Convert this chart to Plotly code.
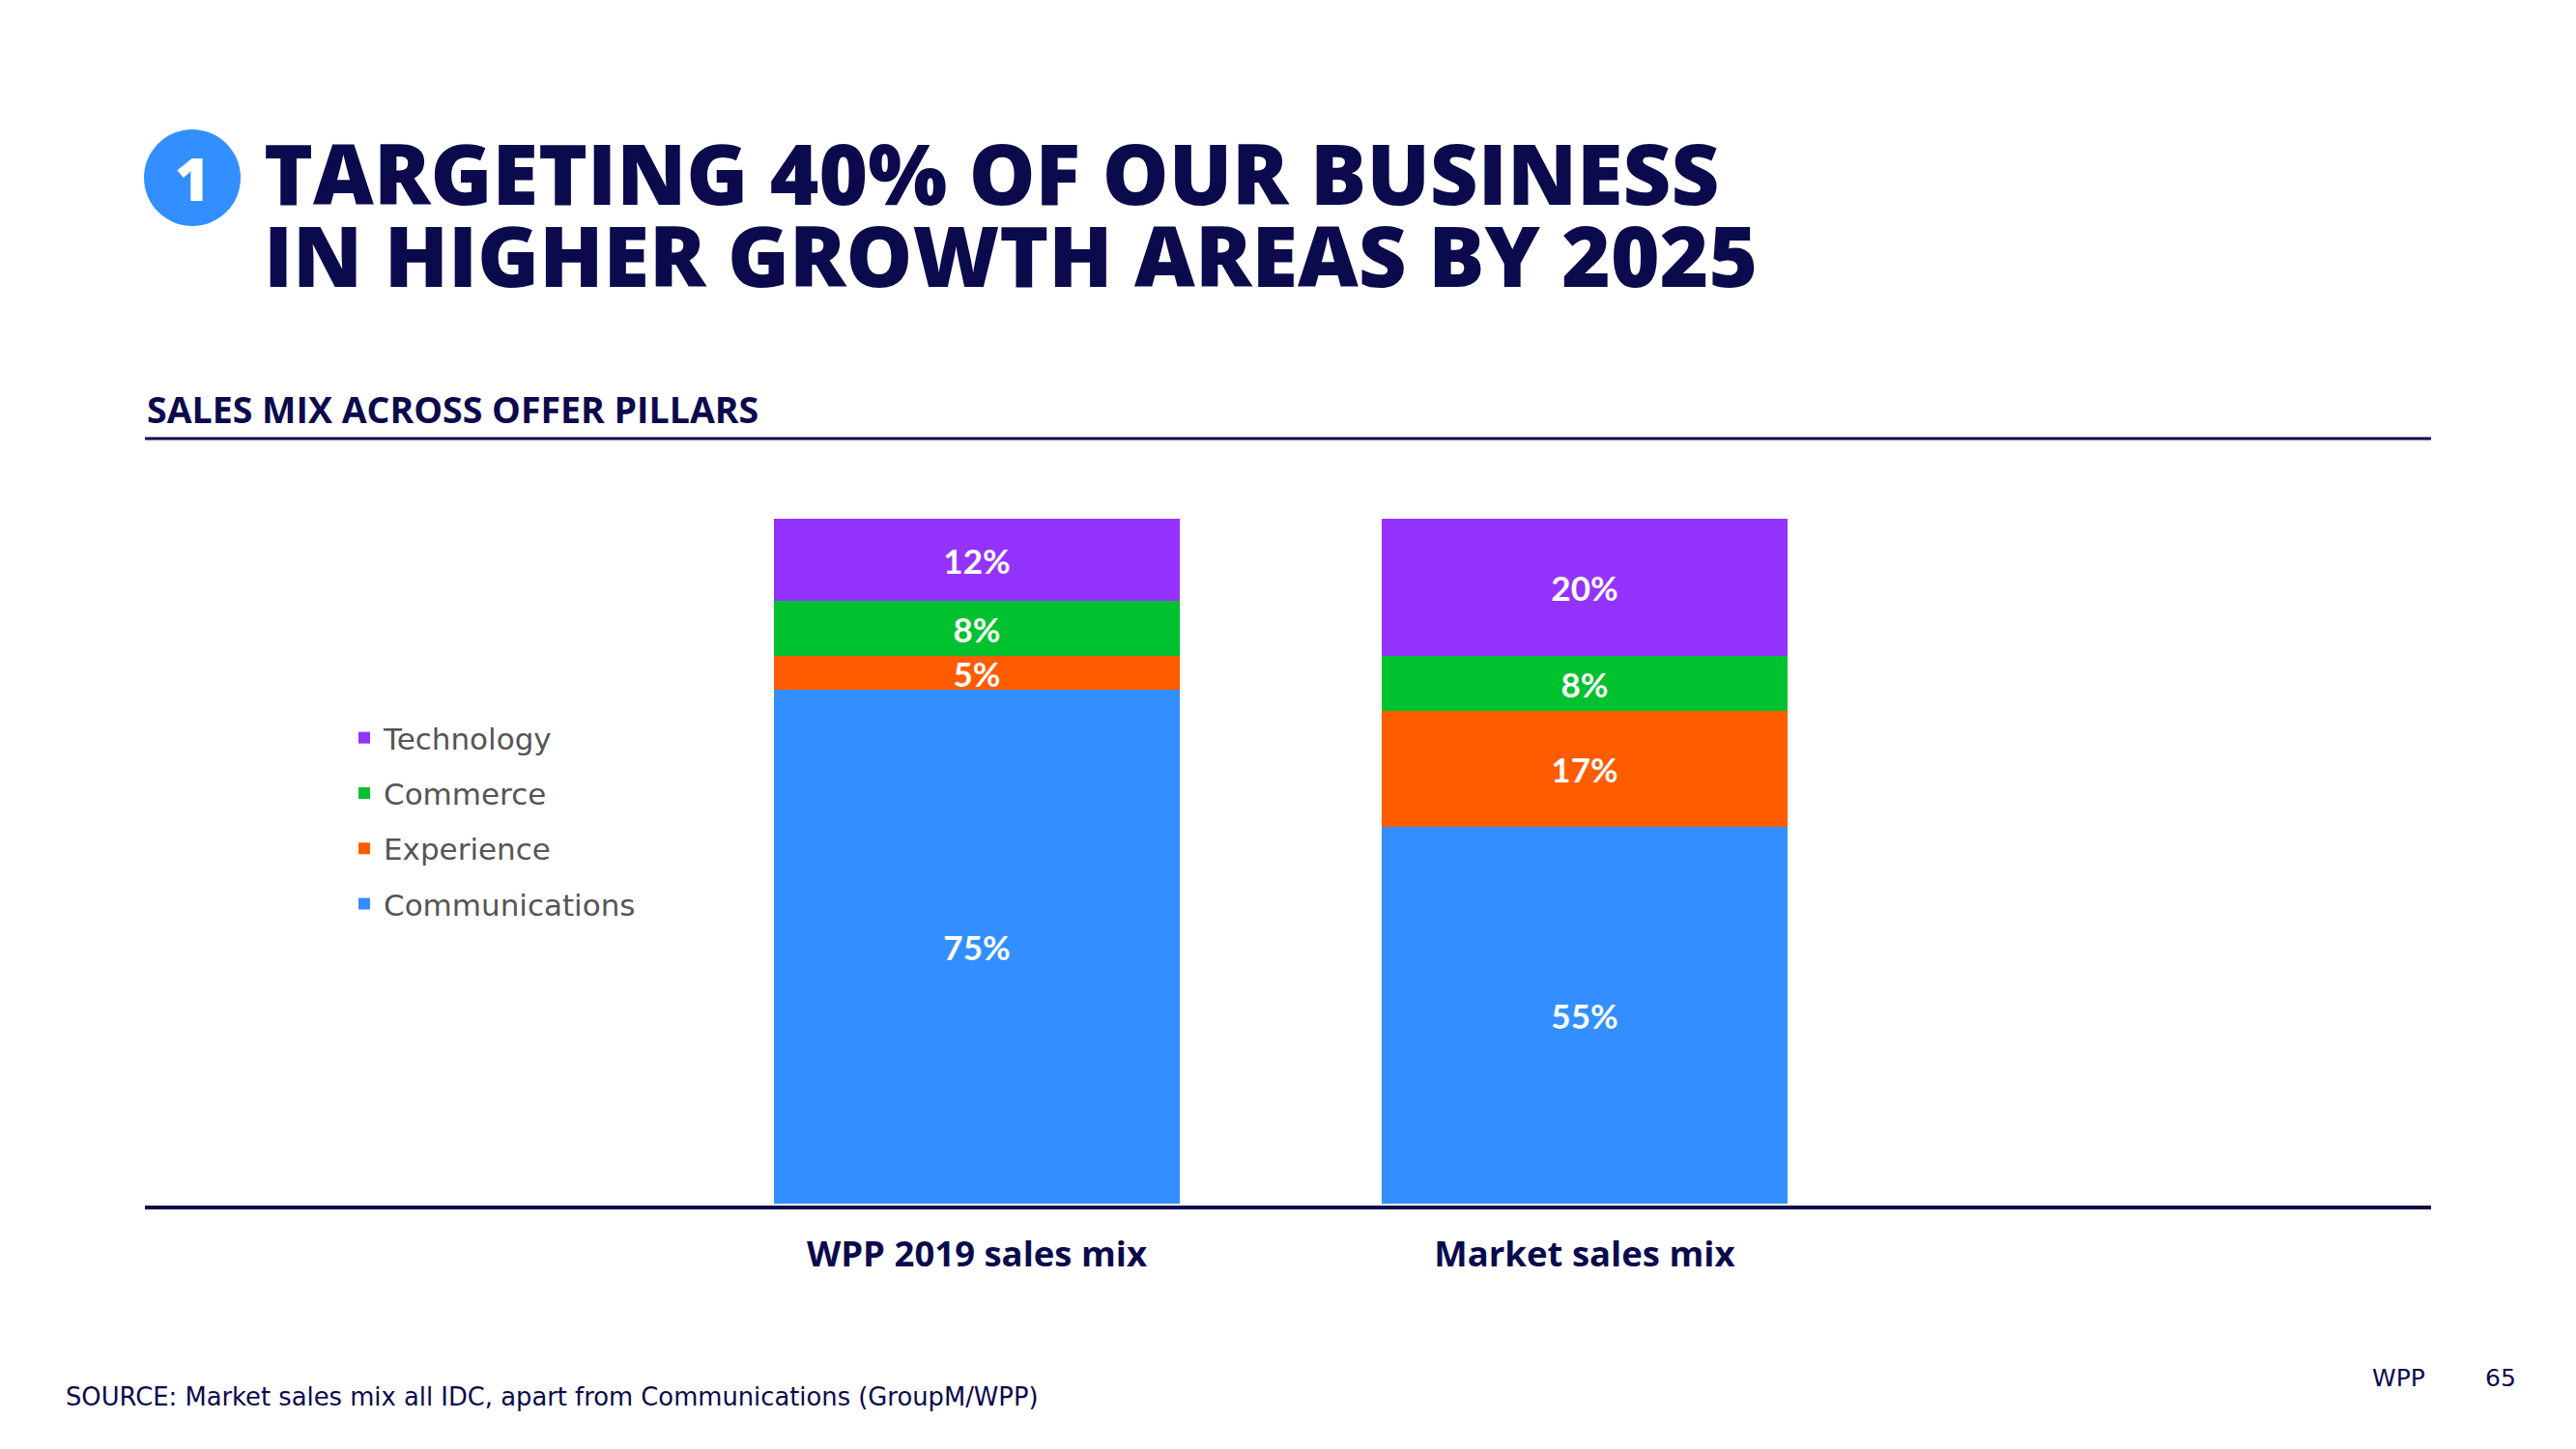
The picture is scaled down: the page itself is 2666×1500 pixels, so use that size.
import plotly.graph_objects as go

categories = ["WPP 2019 sales mix", "Market sales mix"]
communications = [75, 55]
experience = [5, 17]
commerce = [8, 8]
technology = [12, 20]

series_names = ["Communications", "Experience", "Commerce", "Technology"]
series_values = [communications, experience, commerce, technology]
series_colors = ["#338fff", "#ff5c00", "#00c12e", "#9433ff"]
legend_ranks = [4, 3, 2, 1]

NAVY = "#0b0a4d"
W, H = 2666, 1500
L, R, T, B = 150, 150, 537, 254
PW, PH = W - L - R, H - T - B


def px_x(p):
    return (p - L) / PW


def px_y(p):
    return (H - B - p) / PH


fig = go.Figure()
for name, vals, col, rank in zip(series_names, series_values, series_colors, legend_ranks):
    fig.add_trace(go.Bar(
        x=categories, y=vals, name=name, legendgroup=name, legendrank=rank,
        marker=dict(color=col, line=dict(width=0)),
        width=0.668,
        text=[f"{v}%" for v in vals], texttemplate="%{text}",
        textposition="inside", insidetextanchor="middle", textangle=0,
        textfont=dict(family="Lato", size=35, color="white", weight=700),
        hoverinfo="skip",
    ))

fig.update_layout(
    width=W, height=H,
    margin=dict(l=L, r=R, t=T, b=B, pad=0),
    paper_bgcolor="white", plot_bgcolor="white",
    barmode="stack", bargap=0,
    uniformtext=dict(mode="show", minsize=35),
    showlegend=True,
    legend=dict(
        x=px_x(357), y=px_y(737), xanchor="left", yanchor="top",
        traceorder="grouped", tracegroupgap=14,
        font=dict(family="DejaVu Sans", size=31, color="#555555"),
        bgcolor="rgba(0,0,0,0)", borderwidth=0,
    ),
    xaxis=dict(
        range=[-1.369, 2.393], showgrid=False, zeroline=False, showline=False,
        ticks="", tickfont=dict(family="Open Sans", size=36.5, color=NAVY, weight=700),
        ticklabelstandoff=27, fixedrange=True,
    ),
    yaxis=dict(range=[0, 100], visible=False, fixedrange=True),
    font=dict(family="Open Sans", color=NAVY),
)

shapes = [
    dict(type="line", xref="paper", yref="paper", x0=0, x1=1,
         y0=px_y(1250), y1=px_y(1250), line=dict(color=NAVY, width=4)),
    dict(type="line", xref="paper", yref="paper", x0=0, x1=1,
         y0=px_y(454), y1=px_y(454), line=dict(color=NAVY, width=3)),
    dict(type="circle", xref="paper", yref="paper", x0=px_x(149), x1=px_x(249),
         y0=px_y(134), y1=px_y(234), fillcolor="#338fff", line=dict(width=0)),
]
fig.update_layout(shapes=shapes)

TITLE_FONT = dict(family="Open Sans", size=86.5, color=NAVY, weight=800)
annotations = [
    dict(text="1", x=px_x(199), y=px_y(184), font=dict(family="Open Sans", size=62, color="white", weight=800),
         xanchor="center", yanchor="middle"),
    dict(text="TARGETING 40% OF OUR BUSINESS", x=px_x(271), y=px_y(179),
         font=TITLE_FONT, xanchor="left", yanchor="middle"),
    dict(text="IN HIGHER GROWTH AREAS BY 2025", x=px_x(271), y=px_y(264),
         font=TITLE_FONT, xanchor="left", yanchor="middle"),
    dict(text="SALES MIX ACROSS OFFER PILLARS", x=px_x(150), y=px_y(423),
         font=dict(family="Open Sans", size=37.5, color=NAVY, weight=700), xanchor="left", yanchor="middle"),
    dict(text="SOURCE: Market sales mix all IDC, apart from Communications (GroupM/WPP)", x=px_x(66), y=px_y(1446),
         font=dict(family="DejaVu Sans", size=25.8, color=NAVY), xanchor="left", yanchor="middle"),
    dict(text="WPP", x=px_x(2453), y=px_y(1426),
         font=dict(family="DejaVu Sans", size=25, color=NAVY), xanchor="left", yanchor="middle"),
    dict(text="65", x=px_x(2570), y=px_y(1426),
         font=dict(family="DejaVu Sans", size=25, color=NAVY), xanchor="left", yanchor="middle"),
]
for a in annotations:
    a.update(xref="paper", yref="paper", showarrow=False)
fig.update_layout(annotations=annotations)

fig.write_html("out.html", config={"displayModeBar": False},
               post_script="document.body.style.margin='0px';")
